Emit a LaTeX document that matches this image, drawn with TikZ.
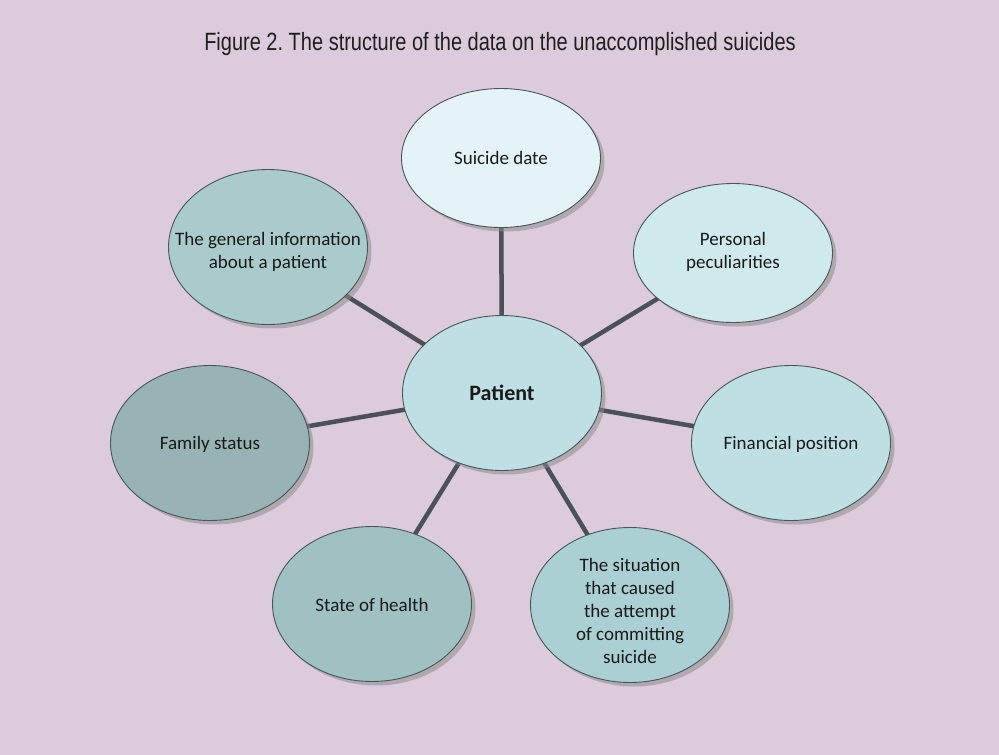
\documentclass[tikz,border=0pt]{standalone}
\usepackage{fontspec}
\setmainfont{Carlito}
\newfontfamily\titlefont[FakeStretch=0.80]{Liberation Sans}
\usetikzlibrary{shapes.geometric,shadows}
\definecolor{bgc}{HTML}{DCCBDB}
\definecolor{linec}{HTML}{4A5157}
\definecolor{edgec}{HTML}{4A5558}
\definecolor{cSD}{HTML}{E3F3F6}
\definecolor{cPP}{HTML}{CFEAEC}
\definecolor{cPA}{HTML}{BEDFE3}
\definecolor{cFP}{HTML}{BEE0E3}
\definecolor{cGI}{HTML}{A9CBCB}
\definecolor{cSI}{HTML}{AAD0D3}
\definecolor{cFS}{HTML}{98B3B4}
\definecolor{cSH}{HTML}{9FC1C1}
\tikzset{
  bubble/.style={ellipse, draw=edgec, line width=0.9pt, inner sep=0pt,
    minimum width=199pt, minimum height=155pt,
    drop shadow={shadow xshift=4pt, shadow yshift=-4pt, fill=black!45, opacity=0.55}},
  txt/.style={align=center, inner sep=0pt, text=black!90,
    font=\fontsize{19}{23}\selectfont},
  link/.style={draw=linec, line width=4.5pt}
}
\frenchspacing
\begin{document}
\begin{tikzpicture}[x=1pt,y=-1pt]
\fill[bgc] (0,0) rectangle (999,755);
\useasboundingbox (0,0) rectangle (999,755);
\node[font=\titlefont\fontsize{25}{28}\selectfont, text=black!88] (title) at (500,44) {Figure 2. The structure of the data on the unaccomplished suicides};
\coordinate (cPAc) at (502,393);
\coordinate (cSDc) at (501,158);
\coordinate (cGIc) at (268,247);
\coordinate (cPPc) at (733,253);
\coordinate (cFSc) at (210,443);
\coordinate (cFPc) at (791,443);
\coordinate (cSHc) at (372,604);
\coordinate (cSIc) at (630,605);
\foreach \t in {cSDc,cGIc,cPPc,cFSc,cFPc,cSHc,cSIc}
  \draw[link] (cPAc) -- (\t);
\node[bubble, fill=cSD, minimum height=139pt] (sd) at (cSDc) {};
\node[bubble, fill=cGI] (gi) at (cGIc) {};
\node[bubble, fill=cPP, minimum height=139pt] (pp) at (cPPc) {};
\node[bubble, fill=cFS] (fs) at (cFSc) {};
\node[bubble, fill=cFP] (fp) at (cFPc) {};
\node[bubble, fill=cSH] (sh) at (cSHc) {};
\node[bubble, fill=cSI] (si) at (cSIc) {};
\node[bubble, fill=cPA] (pa) at (cPAc) {};
\node[txt] (sdt) at (sd) {Suicide date};
\node[txt] (git) at ([yshift=-5pt]gi.center) {The general information\\about a patient};
\node[txt] (ppt) at ([yshift=1pt]pp.center) {Personal\\peculiarities};
\node[txt] (fst) at ([yshift=-1pt]fs.center) {Family status};
\node[txt] (fpt) at ([yshift=-1.5pt]fp.center) {Financial position};
\node[txt] (sht) at ([yshift=-1pt]sh.center) {State of health};
\node[txt] (sit) at ([yshift=-6pt]si.center) {The situation\\that caused\\the attempt\\of committing\\suicide};
\node[txt, font=\bfseries\fontsize{22}{24}\selectfont] (pat) at (pa) {Patient};
\end{tikzpicture}
\end{document}
